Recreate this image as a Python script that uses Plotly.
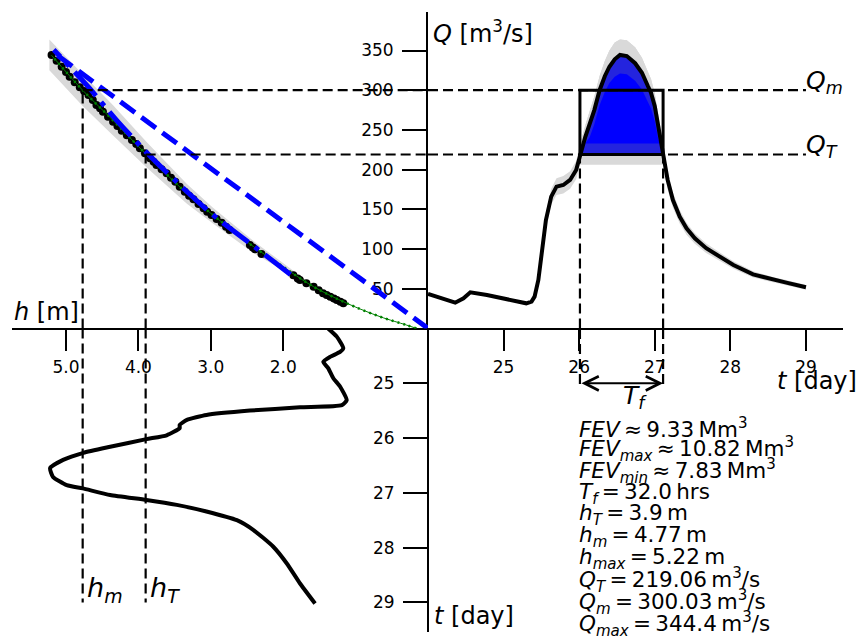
import plotly.graph_objects as go

W, H = 859, 636
FONT = "DejaVu Sans"

# ---------------- data ----------------
# hydrograph Q(t)
t_obs = [24.00, 24.18, 24.36, 24.47, 24.56, 24.78, 25.04, 25.30, 25.37, 25.41, 25.46, 25.50,
         25.56, 25.63, 25.70, 25.79, 25.88, 25.96, 26.01, 26.08, 26.14, 26.20, 26.27, 26.34,
         26.40, 26.47, 26.54, 26.63, 26.74, 26.83, 26.91, 26.95, 27.00, 27.05, 27.11, 27.17,
         27.24, 27.33, 27.42, 27.53, 27.68, 27.86, 28.04, 28.30, 28.57, 28.74, 29.00]
Q_obs = [43.3, 37.5, 32.4, 38.0, 45.5, 42.0, 36.6, 31.6, 33.7, 40.0, 61.0, 90.0,
         136.5, 166.0, 178.5, 180.6, 187.0, 199.5, 219.0, 241.0, 258.0, 275.0, 300.0, 318.0,
         329.6, 339.0, 344.4, 343.0, 334.0, 322.0, 305.0, 297.0, 280.0, 254.0, 219.0, 187.0,
         161.7, 140.7, 126.0, 113.5, 101.0, 90.3, 79.8, 68.0, 61.0, 57.6, 51.8]
Q_hi = [44.5, 38.5, 33.5, 39.0, 46.5, 43.0, 37.5, 32.5, 35.0, 42.0, 66.0, 97.0,
        146.0, 176.0, 189.0, 192.0, 198.0, 211.0, 232.0, 256.0, 274.0, 292.0, 318.0, 337.0,
        350.0, 360.0, 364.0, 363.0, 354.0, 341.0, 323.0, 314.0, 296.0, 269.0, 232.0, 198.0,
        171.0, 149.0, 133.0, 120.0, 107.0, 95.5, 84.5, 72.0, 64.5, 61.0, 54.8]
Q_lo = [42.0, 36.5, 31.3, 37.0, 44.5, 41.0, 35.7, 30.7, 32.5, 38.0, 57.0, 84.0,
        128.0, 156.0, 168.0, 170.0, 176.0, 188.0, 206.0, 226.0, 241.0, 257.0, 281.0, 298.0,
        309.0, 317.0, 321.0, 320.0, 312.0, 301.0, 285.0, 277.0, 261.0, 237.0, 204.0, 175.0,
        152.0, 132.0, 118.0, 106.5, 95.0, 85.0, 75.0, 64.0, 57.5, 54.3, 48.8]

# stage h(t)
t_stage = [24.00, 24.15, 24.36, 24.43, 24.52, 24.61, 24.73, 24.91, 25.06, 25.31, 25.40, 25.44,
           25.50, 25.58, 25.67, 25.76, 25.82, 25.95, 26.02, 26.16, 26.27, 26.40, 26.55, 26.71,
           26.86, 26.92, 27.04, 27.13, 27.22, 27.34, 27.50, 27.68, 27.98, 28.29, 28.65, 29.02]
h_stage = [1.38, 1.26, 1.17, 1.215, 1.354, 1.446, 1.377, 1.308, 1.215, 1.123, 1.19, 1.768,
           2.46, 3.06, 3.33, 3.43, 3.43, 3.61, 3.89, 4.39, 4.76, 5.04, 5.22, 5.18,
           4.99, 4.77, 4.39, 3.89, 3.47, 3.06, 2.64, 2.41, 2.14, 1.95, 1.77, 1.56]

# rating curve model
h_rc = [0.16, 0.30, 0.66, 1.12, 1.58, 2.04, 2.41, 2.97, 3.33, 3.89, 4.35, 4.77, 5.20]
Q_rc = [0.0, 4.3, 14.7, 31.6, 52.5, 80.0, 103.0, 142.8, 170.0, 219.0, 262.0, 300.0, 344.0]
# rating measurements
h_meas = [5.20, 5.13, 5.06, 5.00, 4.95, 4.88, 4.81, 4.75, 4.69, 4.63, 4.58, 4.53, 4.49, 4.42,
          4.35, 4.29, 4.23, 4.16, 4.09, 4.03, 3.98, 3.91, 3.84, 3.79, 3.75, 3.68, 3.61, 3.55,
          3.49, 3.43, 3.36, 3.30, 3.24, 3.17, 3.10, 3.05, 2.99, 2.92, 2.85, 2.79, 2.74,
          2.46, 2.42, 2.39, 2.30, 1.86, 1.80, 1.77, 1.68, 1.58, 1.51, 1.45, 1.40, 1.35,
          1.30, 1.26, 1.21, 1.17]
Q_meas = [344.3, 337.0, 329.6, 323.0, 317.0, 310.0, 303.6, 299.0, 294.0, 287.6, 281.4, 277.2,
          273.0, 266.6, 260.3, 255.0, 249.0, 243.2, 237.3, 232.2, 226.8, 220.5, 214.2, 210.0,
          205.8, 200.4, 195.3, 189.8, 184.8, 178.5, 172.2, 167.1, 162.6, 156.7, 151.3, 147.0,
          142.8, 137.8, 133.1, 128.1, 123.9, 105.0, 102.0, 99.6, 93.7, 67.0, 63.0, 61.0,
          56.8, 52.5, 48.0, 44.2, 42.0, 39.9, 37.8, 35.8, 33.6, 31.6]
# rating uncertainty band
h_band = [1.60, 2.04, 2.41, 2.97, 3.33, 3.89, 4.35, 4.77, 5.23]
Q_band_lo = [50.0, 75.0, 95.0, 132.0, 157.0, 203.0, 243.0, 280.0, 325.0]
Q_band_hi = [55.0, 85.0, 110.0, 152.0, 182.0, 235.0, 281.0, 320.0, 364.0]
# alternative fits
h_fit_lin = [0.0, 5.15]
Q_fit_lin = [0.0, 346.0]
h_fit_pow = [1.90, 2.40, 2.97, 3.50, 3.89, 4.30, 4.71, 5.17]
Q_fit_pow = [68.0, 103.0, 143.0, 187.0, 222.0, 262.0, 306.0, 351.0]

# thresholds
Q_T, Q_m = 219.06, 300.03
Q_T_lo, Q_T_hi = 206.0, 233.0
h_T, h_m = 3.9, 4.77
t_start, t_end = 26.01, 27.11
t_ref_end = 29.0

stats = [
    "<i>FEV</i>\u2009≈\u20099.33\u2009Mm<sup>3</sup>",
    "<i>FEV</i><sub><i>max</i></sub>\u2009≈\u200910.82\u2009Mm<sup>3</sup>",
    "<i>FEV</i><sub><i>min</i></sub>\u2009≈\u20097.83\u2009Mm<sup>3</sup>",
    "<i>T</i><sub><i>f</i></sub>\u2009=\u200932.0\u2009hrs",
    "<i>h</i><sub><i>T</i></sub>\u2009=\u20093.9\u2009m",
    "<i>h</i><sub><i>m</i></sub>\u2009=\u20094.77\u2009m",
    "<i>h</i><sub><i>max</i></sub>\u2009=\u20095.22\u2009m",
    "<i>Q</i><sub><i>T</i></sub>\u2009=\u2009219.06\u2009m<sup>3</sup>/s",
    "<i>Q</i><sub><i>m</i></sub>\u2009=\u2009300.03\u2009m<sup>3</sup>/s",
    "<i>Q</i><sub><i>max</i></sub>\u2009=\u2009344.4\u2009m<sup>3</sup>/s",
]

# ---------------- layout geometry (pixels) ----------------
OX, OY = 428.0, 328.4
def pxx(x):
    return x / W
def pxy(y):
    return 1 - y / H

x_dom = [pxx(OX), pxx(843)]
x2_dom = [pxx(12.3), pxx(OX)]
y_dom = [pxy(OY), pxy(11.7)]
y3_dom = [pxy(632), pxy(OY)]

fig = go.Figure()

BLACK = "black"
GRAY = "#d9d9d9"

# ---- top-right: hydrograph ----
fig.add_trace(go.Scatter(x=t_obs + t_obs[::-1], y=Q_hi + Q_lo[::-1], fill="toself",
                         fillcolor=GRAY, line=dict(width=0), mode="lines",
                         hoverinfo="skip", xaxis="x", yaxis="y"))
sel = [i for i, t in enumerate(t_obs) if t_start <= t <= t_end]
ts = [t_obs[i] for i in sel]
fig.add_trace(go.Scatter(x=ts + ts[::-1], y=[Q_hi[i] for i in sel] + [Q_T_lo] * len(ts),
                         fill="toself", fillcolor=GRAY, line=dict(width=0), mode="lines",
                         xaxis="x", yaxis="y"))
fig.add_trace(go.Scatter(x=ts + ts[::-1], y=[Q_obs[i] for i in sel] + [Q_T] * len(ts),
                         fill="toself", fillcolor="rgb(36,36,222)", line=dict(width=0),
                         mode="lines", xaxis="x", yaxis="y"))
fig.add_trace(go.Scatter(x=ts + ts[::-1],
                         y=[max(Q_lo[i], Q_T_hi) for i in sel] + [Q_T_hi] * len(ts),
                         fill="toself", fillcolor="rgb(0,0,255)", line=dict(width=0),
                         mode="lines", xaxis="x", yaxis="y"))
fig.add_trace(go.Scatter(x=t_obs, y=Q_obs, mode="lines", line=dict(color=BLACK, width=4),
                         xaxis="x", yaxis="y"))

# ---- top-left: rating curve ----
fig.add_trace(go.Scatter(x=h_band + h_band[::-1], y=Q_band_hi + Q_band_lo[::-1], fill="toself",
                         fillcolor=GRAY, line=dict(width=0), mode="lines",
                         xaxis="x2", yaxis="y"))
fig.add_trace(go.Scatter(x=h_meas, y=Q_meas, mode="markers",
                         marker=dict(color=BLACK, size=8), xaxis="x2", yaxis="y"))
fig.add_trace(go.Scatter(x=h_rc, y=Q_rc, mode="lines", line=dict(color="green", width=1),
                         line_shape="spline", xaxis="x2", yaxis="y"))
fig.add_trace(go.Scatter(x=h_rc, y=Q_rc, mode="lines",
                         line=dict(color="green", width=2.5, dash="2px,4px"),
                         line_shape="spline", xaxis="x2", yaxis="y"))
fig.add_trace(go.Scatter(x=h_fit_pow, y=Q_fit_pow, mode="lines",
                         line=dict(color="blue", width=5, dash="32px,8px,5px,8px"),
                         line_shape="spline", xaxis="x2", yaxis="y"))
fig.add_trace(go.Scatter(x=h_fit_lin, y=Q_fit_lin, mode="lines",
                         line=dict(color="blue", width=5, dash="18px,8px"),
                         xaxis="x2", yaxis="y"))

# ---- bottom-left: stage hydrograph ----
fig.add_trace(go.Scatter(x=h_stage, y=t_stage, mode="lines", line=dict(color=BLACK, width=4),
                         line_shape="spline", line_smoothing=0.5,
                         xaxis="x3", yaxis="y3"))

# ---------------- shapes ----------------
DASH = dict(color=BLACK, width=2.2, dash="10px,5px")
shapes = [
    dict(type="line", xref="x2", yref="y", x0=h_m, x1=0, y0=Q_m, y1=Q_m, line=DASH),
    dict(type="line", xref="x", yref="y", x0=t_obs[0], x1=t_ref_end, y0=Q_m, y1=Q_m, line=DASH),
    dict(type="line", xref="x2", yref="y", x0=h_T, x1=0, y0=Q_T, y1=Q_T, line=DASH),
    dict(type="line", xref="x", yref="y", x0=t_obs[0], x1=t_ref_end, y0=Q_T, y1=Q_T, line=DASH),
    dict(type="line", xref="x2", yref="y", x0=h_m, x1=h_m, y0=0, y1=Q_m, line=DASH),
    dict(type="line", xref="x3", yref="y3", x0=h_m, x1=h_m, y0=t_obs[0], y1=t_ref_end, line=DASH),
    dict(type="line", xref="x2", yref="y", x0=h_T, x1=h_T, y0=0, y1=Q_T, line=DASH),
    dict(type="line", xref="x3", yref="y3", x0=h_T, x1=h_T, y0=t_obs[0], y1=t_ref_end, line=DASH),
    dict(type="line", xref="x", yref="y", x0=t_start, x1=t_start, y0=0, y1=Q_T, line=DASH),
    dict(type="line", xref="x", yref="y", x0=t_end, x1=t_end, y0=0, y1=Q_T, line=DASH),
    dict(type="line", xref="x", yref="paper", x0=t_start, x1=t_start, y0=pxy(384), y1=y_dom[0], line=DASH),
    dict(type="line", xref="x", yref="paper", x0=t_end, x1=t_end, y0=pxy(384), y1=y_dom[0], line=DASH),
    dict(type="rect", xref="x", yref="y", x0=t_start, x1=t_end, y0=Q_T, y1=Q_m,
         line=dict(color=BLACK, width=3)),
]

# ---------------- annotations ----------------
ann = []
def txt(text, x, y, size, xanchor="left", yanchor="middle", xref="paper", yref="paper",
        xshift=0, yshift=0):
    ann.append(dict(text=text, x=x, y=y, xref=xref, yref=yref, showarrow=False,
                    xanchor=xanchor, yanchor=yanchor, xshift=xshift, yshift=yshift,
                    font=dict(family=FONT, size=size, color=BLACK)))

txt("<i>h</i> [m]", pxx(12), pxy(312), 24)
txt("<i>Q</i> [m<sup>3</sup>/s]", pxx(431), pxy(32), 24)
txt("<i>t</i> [day]", pxx(775), pxy(381), 24)
txt("<i>t</i> [day]", pxx(432), pxy(616), 24)
txt("<i>Q</i><sub><i>m</i></sub>", t_ref_end, Q_m, 25, xref="x", yref="y", xshift=-2, yshift=8)
txt("<i>Q</i><sub><i>T</i></sub>", t_ref_end, Q_T, 25, xref="x", yref="y", xshift=-2, yshift=8)
txt("<i>h</i><sub><i>m</i></sub>", h_m, t_ref_end, 27, xref="x3", yref="y3", xshift=2, yshift=13)
txt("<i>h</i><sub><i>T</i></sub>", h_T, t_ref_end, 27, xref="x3", yref="y3", xshift=2, yshift=13)
txt("<i>T</i><sub><i>f</i></sub>", (t_start + t_end) / 2, pxy(397), 25, xref="x", xshift=-1)
for i, s in enumerate(stats):
    txt(s, pxx(577), pxy(427.5 + i * 21.85), 21.5)

ann.append(dict(x=t_end, y=pxy(383.3), xref="x", yref="paper", ax=t_start, ay=0,
                axref="x", ayref="pixel", text="", showarrow=True,
                arrowhead=5, startarrowhead=5, arrowside="end+start",
                arrowwidth=2, arrowsize=1.4, startarrowsize=1.4, arrowcolor=BLACK))

# ---------------- axes ----------------
tickfont = dict(family=FONT, size=17, color=BLACK)
common = dict(showgrid=False, zeroline=False, showline=True, linecolor=BLACK, linewidth=2,
              ticks="outside", tickwidth=2, tickcolor=BLACK, tickfont=tickfont,
              layer="below traces")

fig.update_layout(
    width=W, height=H, margin=dict(l=0, r=0, t=0, b=0),
    paper_bgcolor="white", plot_bgcolor="rgba(0,0,0,0)",
    showlegend=False,
    xaxis=dict(domain=x_dom, range=[24, 29.49], tickvals=[25, 26, 27, 28, 29],
               anchor="y", ticklen=21, ticklabelstandoff=1, **common),
    yaxis=dict(domain=y_dom, range=[0, 398.9], tickvals=[50, 100, 150, 200, 250, 300, 350],
               anchor="x", ticklen=24, ticklabelstandoff=5, **common),
    xaxis2=dict(domain=x2_dom, range=[5.742, 0], tickvals=[5, 4, 3, 2], tickformat=".1f",
                anchor="y", ticklen=21, ticklabelstandoff=1, **common),
    xaxis3=dict(domain=x2_dom, range=[5.742, 0], anchor="y3", visible=False),
    yaxis3=dict(domain=y3_dom, range=[29.54, 24], tickvals=[25, 26, 27, 28, 29],
                anchor="free", position=x_dom[0], side="left", ticklen=24,
                ticklabelstandoff=5, **common),
    shapes=shapes,
    annotations=ann,
)

fig.write_html("out.html")
